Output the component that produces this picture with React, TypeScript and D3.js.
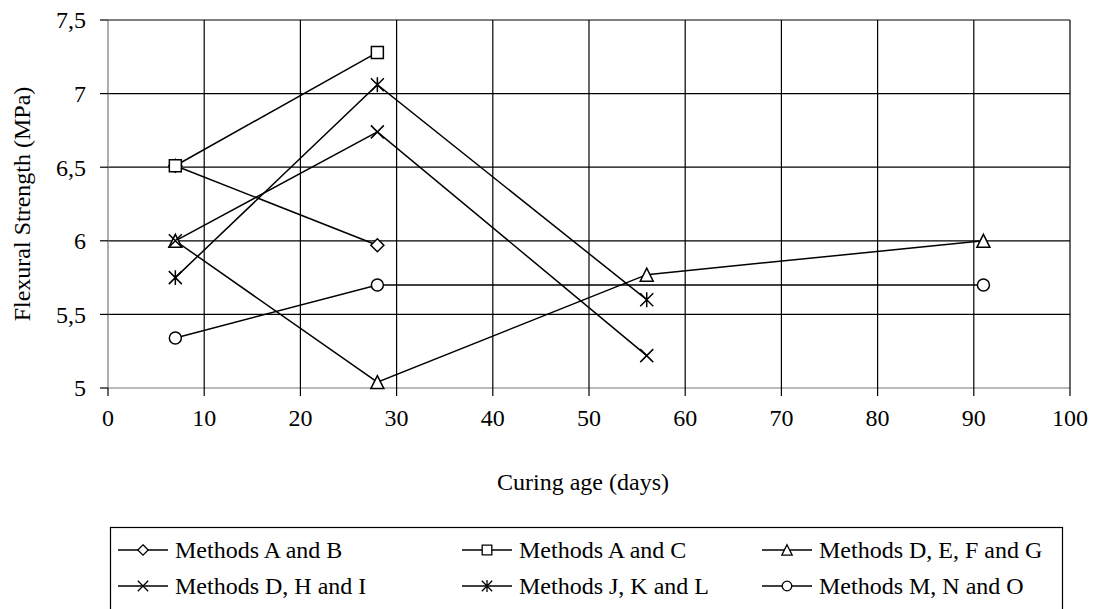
import React from "react";
import * as d3 from "d3";

const xTicks = [0, 10, 20, 30, 40, 50, 60, 70, 80, 90, 100];
const yTicks = [5, 5.5, 6, 6.5, 7, 7.5];

const agesAB = [7, 28];
const valuesAB = [6.51, 5.97];
const agesAC = [7, 28];
const valuesAC = [6.51, 7.28];
const agesDEFG = [7, 28, 56, 91];
const valuesDEFG = [6.0, 5.04, 5.77, 6.0];
const agesDHI = [7, 28, 56];
const valuesDHI = [6.0, 6.74, 5.22];
const agesJKL = [7, 28, 56];
const valuesJKL = [5.75, 7.06, 5.6];
const agesMNO = [7, 28, 91];
const valuesMNO = [5.34, 5.7, 5.7];

const seriesNames = [
  "Methods A and B",
  "Methods A and C",
  "Methods D, E, F and G",
  "Methods D, H and I",
  "Methods J, K and L",
  "Methods M, N and O",
];

const seriesAges = [agesAB, agesAC, agesDEFG, agesDHI, agesJKL, agesMNO];
const seriesValues = [valuesAB, valuesAC, valuesDEFG, valuesDHI, valuesJKL, valuesMNO];
const seriesMarkers = ["diamond", "square", "triangle", "x", "asterisk", "circle"];

const W = 1093;
const H = 609;
const FONT =
  "'Liberation Serif', 'Times New Roman', Times, Tinos, 'Noto Serif', 'DejaVu Serif', FreeSerif, 'Nimbus Roman', serif";

const markerTypes: Record<string, any> = {
  diamond: {
    draw(ctx: any, size: number) {
      const r = Math.sqrt(size) / 2;
      ctx.moveTo(0, -r);
      ctx.lineTo(r, 0);
      ctx.lineTo(0, r);
      ctx.lineTo(-r, 0);
      ctx.closePath();
    },
  },
  square: {
    draw(ctx: any, size: number) {
      const r = Math.sqrt(size) / 2;
      ctx.rect(-r, -r, 2 * r, 2 * r);
    },
  },
  triangle: {
    draw(ctx: any, size: number) {
      const r = Math.sqrt(size) / 2;
      ctx.moveTo(0, -r);
      ctx.lineTo(r, r);
      ctx.lineTo(-r, r);
      ctx.closePath();
    },
  },
  circle: {
    draw(ctx: any, size: number) {
      const r = Math.sqrt(size) / 2;
      ctx.moveTo(r, 0);
      ctx.arc(0, 0, r, 0, 2 * Math.PI);
    },
  },
  x: {
    draw(ctx: any, size: number) {
      const r = Math.sqrt(size) / 2;
      ctx.moveTo(-r, -r);
      ctx.lineTo(r, r);
      ctx.moveTo(r, -r);
      ctx.lineTo(-r, r);
    },
  },
  asterisk: {
    draw(ctx: any, size: number) {
      const r = Math.sqrt(size) / 2;
      ctx.moveTo(-r, -r);
      ctx.lineTo(r, r);
      ctx.moveTo(r, -r);
      ctx.lineTo(-r, r);
      ctx.moveTo(0, -r * 1.15);
      ctx.lineTo(0, r * 1.15);
    },
  },
};

const markerSizes: Record<string, number> = {
  diamond: 13 * 13,
  square: 12 * 12,
  triangle: 13 * 13,
  circle: 12 * 12,
  x: 13 * 13,
  asterisk: 13 * 13,
};

const markerPath = (m: string, scale = 1) =>
  d3.symbol().type(markerTypes[m]).size(markerSizes[m] * scale * scale)() as string;

export default function App() {
  const x = d3.scaleLinear().domain([0, 100]).range([108, 1070]);
  const y = d3.scaleLinear().domain([5, 7.5]).range([388, 20]);
  const line = d3
    .line<[number, number]>()
    .x((d) => x(d[0]))
    .y((d) => y(d[1]));

  const fmt = (v: number) => String(v).replace(".", ",");

  const legendX = [118, 462, 762];
  const legendY = [550, 586];

  const txt = { fontFamily: FONT, fontSize: 24 };

  return (
    <div style={{ position: "fixed", left: 0, top: 0, width: W, height: H, background: "#fff" }}>
      <svg width={W} height={H} style={{ display: "block", fontFamily: FONT }}>
        <rect x={0} y={0} width={W} height={H} fill="#fff" />
        {yTicks.map((t) => (
          <line key={"hg" + t} x1={x(0)} x2={x(100)} y1={y(t)} y2={y(t)} stroke={t === 5 ? "#777" : "#000"} strokeWidth={1.2} />
        ))}
        {xTicks.map((t) => (
          <line key={"vg" + t} x1={x(t)} x2={x(t)} y1={y(7.5)} y2={y(5)} stroke={t === 0 ? "#777" : "#000"} strokeWidth={1.2} />
        ))}
        {yTicks.map((t) => (
          <line key={"yt" + t} x1={x(0) - 8} x2={x(0)} y1={y(t)} y2={y(t)} stroke="#000" strokeWidth={1.2} />
        ))}
        {xTicks.map((t) => (
          <line key={"xt" + t} x1={x(t)} x2={x(t)} y1={y(5)} y2={y(5) + 8} stroke="#000" strokeWidth={1.2} />
        ))}
        {yTicks.map((t) => (
          <text key={"yl" + t} x={86} y={y(t)} dy="0.35em" textAnchor="end" style={txt} fill="#000">
            {fmt(t)}
          </text>
        ))}
        {xTicks.map((t) => (
          <text key={"xl" + t} x={x(t)} y={418} dy="0.35em" textAnchor="middle" style={txt} fill="#000">
            {t}
          </text>
        ))}
        <text x={583} y={482} dy="0.35em" textAnchor="middle" style={txt} fill="#000">
          Curing age (days)
        </text>
        <text
          transform={`translate(22, ${(y(5) + y(7.5)) / 2}) rotate(-90)`}
          dy="0.35em"
          textAnchor="middle"
          style={txt}
          fill="#000"
        >
          Flexural Strength (MPa)
        </text>
        {seriesAges.map((ages, i) => (
          <path
            key={"ln" + i}
            d={line(ages.map((a, j) => [a, seriesValues[i][j]] as [number, number])) as string}
            fill="none"
            stroke="#000"
            strokeWidth={1.5}
          />
        ))}
        {seriesAges.map((ages, i) =>
          ages.map((a, j) => (
            <path
              key={"mk" + i + "-" + j}
              d={markerPath(seriesMarkers[i])}
              transform={`translate(${x(a)}, ${y(seriesValues[i][j])})`}
              fill="#fff"
              stroke="#000"
              strokeWidth={1.5}
            />
          ))
        )}
        <rect x={110.5} y={527.5} width={952} height={100} fill="#fff" stroke="#000" strokeWidth={1.2} />
        {seriesNames.map((name, i) => {
          const col = i % 3;
          const row = Math.floor(i / 3);
          const lx = legendX[col];
          const ly = legendY[row];
          return (
            <g key={"lg" + i}>
              <line x1={lx} x2={lx + 50} y1={ly} y2={ly} stroke="#000" strokeWidth={1.5} />
              <path
                d={markerPath(seriesMarkers[i], 0.8)}
                transform={`translate(${lx + 25}, ${ly})`}
                fill="#fff"
                stroke="#000"
                strokeWidth={1.3}
              />
              <text x={lx + 57} y={ly} dy="0.35em" style={txt} fill="#000">
                {name}
              </text>
            </g>
          );
        })}
      </svg>
    </div>
  );
}
